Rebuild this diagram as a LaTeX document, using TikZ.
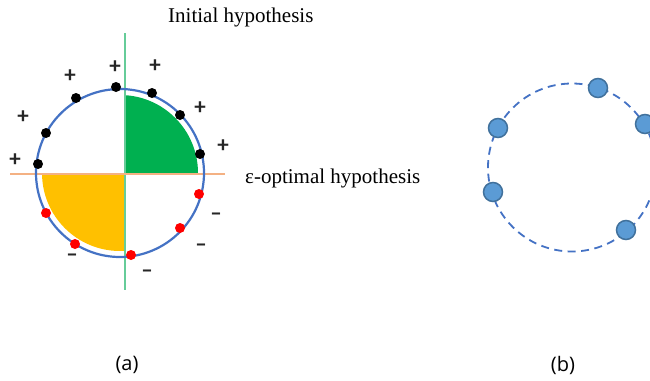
\documentclass[tikz,border=0pt]{standalone}
\usepackage{fontspec}
\setmainfont{Liberation Serif}
\newfontfamily\capfont{Open Sans}
\newfontfamily\signfont{Carlito}
\definecolor{ringblue}{HTML}{4472C4}
\definecolor{dotblue}{HTML}{5B9BD5}
\definecolor{dotedge}{HTML}{41719C}
\definecolor{posgreen}{HTML}{00B050}
\definecolor{neggold}{HTML}{FFC000}
\definecolor{axisgreen}{HTML}{66CC99}
\definecolor{axisorange}{HTML}{F4B183}

\begin{document}
\begin{tikzpicture}[x=1pt,y=-1pt,
  smpl/.style={circle,inner sep=0pt,minimum size=10pt,fill=#1},
  sgn/.style={font=\signfont\bfseries\fontsize{23}{23}\selectfont,inner sep=0pt,text=black!85},
  hyp/.style={font=\fontsize{21}{24}\selectfont,inner sep=0pt},
  captext/.style={font=\capfont\fontsize{20}{24}\selectfont,inner sep=0pt},
  sample/.style={circle,inner sep=0pt,minimum size=19pt,fill=dotblue,draw=dotedge,line width=1.5pt}]
\clip (0,0) rectangle (650,380);
% (a)
\begin{scope}
  \clip (125,174) rectangle (215,80);
  \fill[posgreen] (120,173) circle (78pt);
\end{scope}
\begin{scope}
  \clip (125,174) rectangle (30,265);
  \fill[neggold] (120,173) circle (78pt);
\end{scope}
\draw[axisgreen,line width=1.2pt] (125,33) -- (125,290);
\draw[axisorange,line width=1.2pt] (10,174) -- (225,174);
\draw[ringblue,line width=2.2pt] (120,173) circle (84pt);
\foreach \i/\x/\y in {1/116/87,2/76/98,3/46/133,4/38/164,5/152/93,6/180/115,7/200/154} {
  \node[smpl=black] (p\i) at (\x,\y) {};
}
\foreach \i/\x/\y in {1/199/194,2/180/228,3/131/255,4/75/244,5/46/213} {
  \node[smpl=red] (n\i) at (\x,\y) {};
}
\foreach \i/\x/\y in {1/115/67,2/70/76,3/23/117,4/15/160,5/155/66,6/200/108,7/223/146} {
  \node[sgn] (plus\i) at (\x,\y) {+};
}
\foreach \i/\x/\y in {1/216/217,2/201/248,3/147/274,4/72/258} {
  \node[sgn] (minus\i) at (\x,\y) {–};
}
\node[hyp,anchor=west] (init) at (168,17) {Initial hypothesis};
\node[hyp,anchor=west] (eps) at (245,178) {ε-optimal hypothesis};
\node[captext] (capa) at (127,365) {(a)};
% (b)
\draw[ringblue,line width=1.8pt,dash pattern=on 8pt off 5.5pt] (572,167.5) circle (84pt);
\foreach \i/\x/\y in {1/598/88,2/498/128,3/645/124,4/493/192,5/626/230} {
  \node[sample] (s\i) at (\x,\y) {};
}
\node[captext] (capb) at (563,365) {(b)};
\end{tikzpicture}
\end{document}
